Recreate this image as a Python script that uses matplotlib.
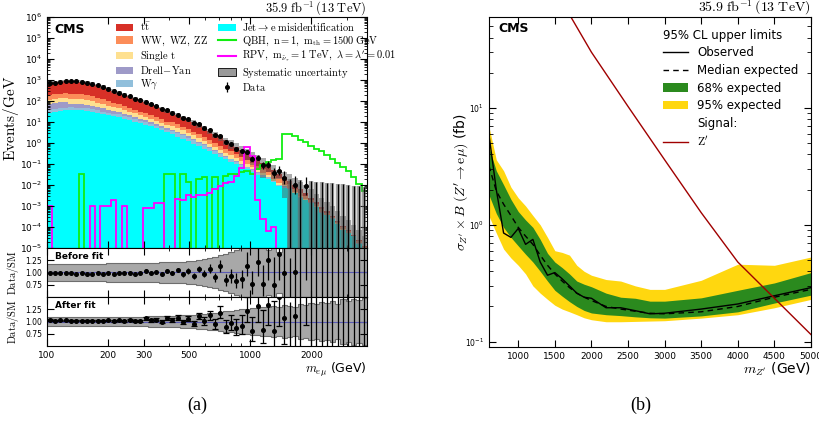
import numpy as np
import matplotlib.pyplot as plt
from matplotlib.patches import Patch
from matplotlib.lines import Line2D
from matplotlib.ticker import FixedLocator, NullFormatter, LogLocator, FuncFormatter

plt.rcParams['mathtext.fontset'] = 'cm'
plt.rcParams['font.family'] = 'DejaVu Sans'
plt.rcParams['xtick.direction'] = 'in'
plt.rcParams['ytick.direction'] = 'in'
plt.rcParams['xtick.top'] = True
plt.rcParams['ytick.right'] = True

# e-mu invariant mass binning (GeV)
mass_edges = np.geomspace(100, 3750, 61)

# backgrounds in events/GeV, bottom of the stack first
misid = [28.2, 31.6, 33.9, 35.5, 36.3, 36.3, 35.5, 33.1, 30.2, 27.5,
         24.5, 21.9, 19.1, 16.6, 14.1, 12.0, 10.2, 8.71, 7.41, 6.17,
         5.01, 4.07, 3.31, 2.63, 2.04, 1.58, 1.23, 0.933, 0.708, 0.537,
         0.398, 0.302, 0.224, 0.166, 0.126, 0.0955, 0.0724, 0.0550, 0.0417, 0.0316,
         0.0240, 0.0200, 0.0132, 0.00891, 0.00759, 0.00631, 0.00398, 0.00240, 0.00191, 0.00141,
         8.9e-4, 4.5e-4, 3.6e-4, 2.5e-4, 1.4e-4, 7.1e-5, 5.0e-5, 3.6e-5, 1.6e-5, 7.9e-6]
wgamma = [10.0, 11.2, 12.0, 12.5, 12.8, 12.5, 12.0, 10.9, 9.5, 8.0,
          6.7, 5.4, 4.35, 7.0, 5.7, 4.6, 3.75, 3.0, 2.45, 1.94,
          1.54, 1.22, 0.97, 1.25, 0.97, 0.75, 0.585, 0.44, 0.33, 0.236,
          0.166, 0.117, 0.082, 0.058, 0.040, 0.028, 0.020, 0.0138, 0.0096, 0.0065,
          0.0044, 0.0028, 0.0015, 0.00103, 6.1e-4, 3.5e-4, 2.3e-4, 1.6e-4, 8.3e-5, 4.2e-5,
          3.7e-5, 2.8e-5, 1.2e-5, 4.8e-6, 3.5e-6, 2.8e-6, 1.1e-6, 2.6e-7, 4.3e-7, 2.8e-7]
drell_yan = [33, 37, 40, 42, 25.7, 25, 24, 21.8, 18.9, 16.1,
             13.3, 10.7, 8.7, 5.9, 4.75, 3.85, 3.1, 2.5, 2.0, 1.6,
             1.28, 1.0, 0.8, 0.5, 0.39, 0.30, 0.234, 0.177, 0.13, 0.094,
             0.066, 0.047, 0.033, 0.023, 0.016, 0.0113, 0.0079, 0.0055, 0.0038, 0.0026,
             0.0018, 0.0011, 7.6e-4, 5.2e-4, 3.1e-4, 1.8e-4, 1.2e-4, 7.8e-5, 4.1e-5, 2.1e-5,
             1.9e-5, 1.4e-5, 5.9e-6, 2.4e-6, 1.8e-6, 1.4e-6, 5.7e-7, 1.3e-7, 2.1e-7, 1.4e-7]
single_top = [40, 45, 48, 50, 51, 50, 48, 43.6, 37.9, 32.1,
              26.6, 21.5, 17.4, 16.4, 13.3, 10.8, 8.75, 7.1, 5.7, 4.5,
              3.6, 2.84, 2.25, 2.24, 1.75, 1.35, 1.05, 0.80, 0.59, 0.42,
              0.30, 0.21, 0.148, 0.104, 0.081, 0.057, 0.040, 0.0276, 0.0192, 0.013,
              0.0088, 0.0056, 0.0030, 0.0021, 0.0012, 7.0e-4, 4.6e-4, 3.1e-4, 1.7e-4, 8.3e-5,
              3.7e-5, 2.8e-5, 1.2e-5, 4.8e-6, 3.5e-6, 2.8e-6, 1.1e-6, 2.6e-7, 4.3e-7, 2.8e-7]
diboson = [73, 82, 88, 92, 94, 92, 88, 80, 69, 58.9,
           48.8, 39.4, 31.9, 23.4, 19.0, 15.4, 12.5, 10.1, 8.2, 6.5,
           5.1, 4.1, 3.2, 3.24, 2.52, 1.95, 1.52, 1.15, 0.85, 0.61,
           0.43, 0.30, 0.213, 0.15, 0.161, 0.113, 0.079, 0.055, 0.038, 0.026,
           0.0176, 0.0112, 0.0133, 0.0090, 0.0054, 0.0031, 0.0020, 0.00137, 7.2e-4, 3.6e-4,
           3.1e-4, 2.3e-4, 9.8e-5, 4.0e-5, 3.0e-5, 2.3e-5, 9.5e-6, 2.2e-6, 3.6e-6, 2.4e-6]
ttbar = [508, 569, 610, 640, 671, 655, 626, 570, 495, 420,
         349, 281, 228, 181, 147, 119, 97, 78, 63, 50,
         39.7, 31.5, 25.0, 17.7, 13.8, 10.65, 8.3, 6.28, 4.64, 3.34,
         2.36, 1.65, 1.16, 0.82, 0.51, 0.357, 0.249, 0.174, 0.121, 0.082,
         0.055, 0.035, 0.0194, 0.0132, 0.0078, 0.0045, 0.0030, 0.0020, 0.00106, 5.3e-4,
         2.2e-4, 1.6e-4, 6.8e-5, 2.8e-5, 2.1e-5, 1.6e-5, 6.7e-6, 1.5e-6, 2.5e-6, 1.6e-6]

# relative uncertainty of the SM prediction before and after the fit
unc_prefit = [0.18, 0.18, 0.18, 0.18, 0.18, 0.18, 0.18, 0.18, 0.18, 0.18,
              0.18, 0.185, 0.185, 0.19, 0.19, 0.19, 0.2, 0.2, 0.2, 0.2,
              0.2, 0.21, 0.21, 0.21, 0.22, 0.22, 0.23, 0.24, 0.26, 0.28,
              0.3, 0.32, 0.35, 0.38, 0.42, 0.46, 0.5, 0.55, 0.6, 0.68,
              0.8, 0.45, 0.7, 0.42, 0.9, 1.1, 1.2, 1.3, 1.4, 1.5,
              1.6, 1.7, 1.8, 1.9, 2.0, 2.0, 2.0, 2.0, 2.0, 2.0]
unc_postfit = [0.09, 0.09, 0.09, 0.09, 0.09, 0.09, 0.09, 0.09, 0.09, 0.09,
               0.09, 0.09, 0.09, 0.095, 0.095, 0.1, 0.1, 0.1, 0.1, 0.105,
               0.11, 0.11, 0.115, 0.12, 0.12, 0.125, 0.13, 0.14, 0.15, 0.16,
               0.17, 0.18, 0.2, 0.21, 0.22, 0.24, 0.25, 0.26, 0.27, 0.28,
               0.3, 0.29, 0.31, 0.3, 0.33, 0.32, 0.3, 0.35, 0.33, 0.37,
               0.35, 0.4, 0.38, 0.42, 0.36, 0.45, 0.42, 0.47, 0.44, 0.48]
postfit_norm = [0.965, 0.965, 0.96, 0.965, 0.96, 0.96, 0.965, 0.96, 0.96, 0.97,
                0.96, 0.965, 0.96, 0.97, 0.965, 0.97, 0.965, 0.97, 0.97, 0.97,
                0.97, 0.975, 0.97, 0.975, 0.97, 0.97, 0.975, 0.97, 0.965, 0.96,
                0.96, 0.955, 0.95, 0.95, 0.95, 0.945, 0.94, 0.94, 0.94, 0.935,
                0.93, 0.93, 0.93, 0.92, 0.92, 0.92, 0.92, 0.91, 0.91, 0.91,
                0.9, 0.9, 0.9, 0.9, 0.9, 0.9, 0.9, 0.9, 0.9, 0.9]

# observed events per bin
data_counts = [4266, 5029, 5757, 6432, 6920, 7151, 7330, 7067, 6503, 5965,
               5224, 4529, 3872, 3392, 2899, 2544, 2144, 1874, 1695, 1375,
               1183, 960, 868, 687, 596, 449, 398, 289, 262, 182,
               153, 96, 90, 51, 42, 28, 22, 22, 11, 13,
               6, 7, 3, 4, 2, 0, 1, 0, 1, 0,
               0, 0, 0, 0, 0, 0, 0, 0, 0, 0]

# signal shapes in events/GeV
qbh = [0, 0, 0, 0, 0, 0, 3.3e-2, 0, 0, 0,
       0, 0, 0, 0, 0, 0, 0, 0, 0, 0,
       0, 0, 3.5e-2, 3.2e-2, 0, 3.2e-2, 1.4e-2, 0, 2.0e-2, 2.5e-2,
       0, 2.5e-2, 0, 2.8e-2, 3.5e-2, 3.2e-2, 4.0e-2, 4.5e-2, 3.5e-2, 5.6e-2,
       8.9e-2, 0.13, 0.16, 0.18, 2.6, 2.6, 2.2, 1.4, 1.1, 0.76,
       0.52, 0.40, 0.28, 0.18, 0.11, 0.071, 0.045, 0.025, 0.011, 0.005]
rpv = [1.0e-3, 0, 0, 0, 0, 0, 0, 0, 1.0e-3, 0,
       1.0e-3, 1.0e-3, 2.0e-3, 0, 1.0e-3, 0, 0, 0, 8e-4, 8e-4,
       1.4e-3, 1.4e-3, 0, 0, 2.2e-3, 2.0e-3, 3.2e-3, 2.8e-3, 3.5e-3, 3.2e-3,
       4.0e-3, 6.3e-3, 8.9e-3, 1.3e-2, 1.4e-2, 2.8e-2, 6.3e-2, 0.63, 0.25, 2.0e-3,
       2.5e-4, 6.3e-5, 1.0e-4, 0, 0, 0, 0, 0, 0, 0,
       0, 0, 0, 0, 0, 0, 0, 0, 0, 0]

# Z' -> e mu limits (fb)
zp_mass = [600, 700, 800, 900, 1000, 1100, 1200, 1300, 1400, 1500, 1600, 1700,
           1800, 1900, 2000, 2200, 2400, 2600, 2800, 3000, 3500, 4000, 4500, 5000]
observed = [5.9, 2.0, 0.85, 0.78, 0.93, 0.68, 0.75, 0.48, 0.37, 0.39, 0.345, 0.30,
            0.26, 0.24, 0.235, 0.195, 0.195, 0.184, 0.173, 0.175, 0.19, 0.21, 0.247, 0.29]
expected = [3.2, 1.95, 1.5, 1.2, 0.95, 0.8, 0.68, 0.55, 0.45, 0.38, 0.33, 0.29,
            0.26, 0.24, 0.225, 0.2, 0.19, 0.182, 0.175, 0.173, 0.18, 0.2, 0.24, 0.28]
band68_lo = [1.8, 1.25, 0.95, 0.78, 0.66, 0.56, 0.48, 0.4, 0.33, 0.275, 0.245, 0.22,
             0.2, 0.185, 0.176, 0.17, 0.167, 0.163, 0.16, 0.159, 0.166, 0.18, 0.214, 0.25]
band68_hi = [4.6, 2.9, 2.2, 1.65, 1.3, 1.1, 0.95, 0.75, 0.57, 0.48, 0.43, 0.38,
             0.33, 0.31, 0.295, 0.26, 0.24, 0.235, 0.222, 0.222, 0.237, 0.275, 0.318, 0.39]
band95_lo = [1.19, 0.85, 0.62, 0.52, 0.45, 0.38, 0.3, 0.26, 0.23, 0.205, 0.19, 0.18,
             0.17, 0.16, 0.154, 0.148, 0.148, 0.149, 0.15, 0.151, 0.159, 0.17, 0.195, 0.23]
band95_hi = [6.9, 3.6, 2.9, 2.1, 1.7, 1.45, 1.2, 1.0, 0.78, 0.6, 0.58, 0.55,
             0.45, 0.4, 0.37, 0.34, 0.33, 0.3, 0.28, 0.28, 0.335, 0.46, 0.45, 0.53]
zprime_mass = [1600, 1700, 2000, 2500, 3000, 3500, 4000, 4500, 5000]
zprime_xsec = [80, 63, 30, 10.3, 3.6, 1.27, 0.48, 0.235, 0.115]

stack = [misid, wgamma, drell_yan, single_top, diboson, ttbar]
stack_colors = ['#00ffff', '#91bfdb', '#9e9ac8', '#fee090', '#fc8d59', '#d73027']
green, yellow, zp_color = '#2b8a1e', '#ffd70f', '#a00000'

width = np.diff(mass_edges)
centers = np.sqrt(mass_edges[:-1] * mass_edges[1:])
counts = np.array(data_counts, dtype=float)
total = np.sum(np.array(stack), axis=0)
u_pre = np.array(unc_prefit)
u_post = np.array(unc_postfit)
err_up = np.where(counts > 0, np.sqrt(counts + 0.25) + 0.5, 1.84)
err_dn = np.where(counts > 0, np.sqrt(counts + 0.25) - 0.5, 0.0)
has = counts > 0
zero = ~has

fig = plt.figure(figsize=(8.2, 4.23), dpi=100)
ax_main = fig.add_axes([0.0573, 0.4137, 0.3902, 0.5461])
ax_r1 = fig.add_axes([0.0573, 0.2979, 0.3902, 0.1158], sharex=ax_main)
ax_r2 = fig.add_axes([0.0573, 0.1820, 0.3902, 0.1158], sharex=ax_main)
ax_lim = fig.add_axes([0.5963, 0.1797, 0.3927, 0.7801])

# ---- stacked backgrounds ----
bottom = np.full(len(centers), 1e-7)
for vals, c in zip(stack, stack_colors):
    top = bottom + np.array(vals)
    ax_main.stairs(top, mass_edges, baseline=bottom, fill=True, color=c, lw=0)
    bottom = top

band_lo = np.clip(total * (1 - u_pre), 1e-7, None)
ax_main.stairs(total * (1 + u_pre), mass_edges, baseline=band_lo, fill=True,
               color='0.35', alpha=0.5, lw=0)

ax_main.stairs(np.where(np.array(qbh) > 0, qbh, 1e-9), mass_edges, baseline=None,
               color='#11ee11', lw=1.3)
ax_main.stairs(np.where(np.array(rpv) > 0, rpv, 1e-9), mass_edges, baseline=None,
               color='#ff00ff', lw=1.3)

# data, with upper limits drawn as bare error bars where no events were seen
ax_main.vlines(centers[zero], 1e-6, err_up[zero] / width[zero], color='0.4', lw=3.2, alpha=0.6)
ax_main.vlines(centers[zero], 1e-6, err_up[zero] / width[zero], color='k', lw=0.9)
data_h = ax_main.errorbar(centers[has], counts[has] / width[has],
                          yerr=[err_dn[has] / width[has], err_up[has] / width[has]],
                          fmt='o', color='k', ms=2.6, lw=0.9, capsize=0)

ax_main.set_xscale('log')
ax_main.set_yscale('log')
ax_main.set_xlim(100, 3750)
ax_main.set_ylim(1e-5, 1e6)
ax_main.yaxis.set_major_locator(LogLocator(base=10, numticks=20))
ax_main.yaxis.set_minor_locator(LogLocator(base=10, subs=np.arange(2, 10), numticks=20))
ax_main.yaxis.set_minor_formatter(NullFormatter())
ax_main.tick_params(axis='x', labelbottom=False)
ax_main.set_ylabel(r'$\mathrm{Events/GeV}$', fontsize=11)
ax_main.yaxis.set_label_coords(-0.082, 0.56)
ax_main.text(0.022, 0.948, 'CMS', transform=ax_main.transAxes, fontsize=9,
             fontweight='bold', va='center')
ax_main.text(1.0, 1.022, r'$35.9\ \mathrm{fb}^{-1}\,(13\ \mathrm{TeV})$',
             transform=ax_main.transAxes, ha='right', va='baseline', fontsize=9)

leg_handles = [Patch(facecolor=stack_colors[5], edgecolor='none'),
               Patch(facecolor=stack_colors[4], edgecolor='none'),
               Patch(facecolor=stack_colors[3], edgecolor='none'),
               Patch(facecolor=stack_colors[2], edgecolor='none'),
               Patch(facecolor=stack_colors[1], edgecolor='none'),
               Patch(facecolor=stack_colors[0], edgecolor='none'),
               Line2D([], [], color='#11ee11', lw=1.5),
               Line2D([], [], color='#ff00ff', lw=1.5),
               Patch(facecolor='0.6', edgecolor='k', lw=0.6),
               data_h]
leg_labels = [r'$\mathrm{t\bar{t}}$', r'$\mathrm{WW,\ WZ,\ ZZ}$', r'$\mathrm{Single\ t}$',
              r'$\mathrm{Drell\!-\!Yan}$', r'$\mathrm{W}\gamma$',
              r'$\mathrm{Jet}\rightarrow\mathrm{e\ misidentification}$',
              r'$\mathrm{QBH,\ n=1,\ m_{th}=1500\ GeV}$',
              r'$\mathrm{RPV,\ m_{\tilde{\nu}_{\tau}}=1\ TeV,\ \lambda=\lambda^{\prime}=0.01}$',
              r'$\mathrm{Systematic\ uncertainty}$', r'$\mathrm{Data}$']
ax_main.legend(leg_handles, leg_labels, ncol=2, loc='upper left',
               bbox_to_anchor=(0.215, 0.985), frameon=False, fontsize=7.5,
               handlelength=1.7, handletextpad=0.6, columnspacing=1.0,
               labelspacing=0.12, borderaxespad=0, borderpad=0)

# ---- data / SM ratios ----
def ratio_panel(ax, bkg, unc, label, caps):
    r = counts / (bkg * width)
    up = err_up / (bkg * width)
    dn = err_dn / (bkg * width)
    ax.stairs(1 + unc, mass_edges, baseline=1 - unc, fill=True, color='#a8a8a8', lw=0)
    ax.stairs(1 + unc, mass_edges, baseline=None, color='#6e6e6e', lw=0.8)
    ax.stairs(1 - unc, mass_edges, baseline=None, color='#6e6e6e', lw=0.8)
    ax.axhline(1.0, color='#5a5ab4', lw=0.8)
    ax.vlines(centers[zero], 0, up[zero], color='k', lw=0.9)
    ax.errorbar(centers[has], r[has], yerr=[dn[has], up[has]], fmt='o', color='k',
                ms=2.6, lw=0.9, capsize=caps, capthick=0.9)
    ax.set_ylim(0.5, 1.5)
    ax.set_yticks([0.75, 1.0, 1.25])
    ax.yaxis.set_major_formatter(FuncFormatter(lambda v, p: f'{v:.2f}'))
    ax.set_ylabel(r'$\mathrm{Data/SM}$', fontsize=7.5)
    ax.yaxis.set_label_coords(-0.082, 0.5)
    ax.text(0.025, 0.82, label, transform=ax.transAxes, fontsize=6.5,
            fontweight='bold', va='center')
    ax.tick_params(axis='y', labelsize=5.5)

ratio_panel(ax_r1, total, u_pre, 'Before fit', 0)
ratio_panel(ax_r2, total * np.array(postfit_norm), u_post, 'After fit', 2.5)
ax_r1.tick_params(axis='x', labelbottom=False)

ax_r2.xaxis.set_major_locator(FixedLocator([100, 200, 300, 500, 1000, 2000]))
ax_r2.xaxis.set_major_formatter(FuncFormatter(lambda v, p: f'{v:.0f}'))
ax_r2.xaxis.set_minor_locator(LogLocator(base=10, subs=np.arange(1, 10), numticks=20))
ax_r2.xaxis.set_minor_formatter(NullFormatter())
ax_r2.tick_params(axis='x', labelsize=6.5)
ax_r2.set_xlabel(r'$m_{e\mu}$ (GeV)', fontsize=9, ha='right')
ax_r2.xaxis.set_label_coords(1.0, -0.3)

for ax in (ax_main, ax_r1, ax_r2):
    ax.tick_params(which='major', length=5, width=0.8)
    ax.tick_params(which='minor', length=2.5, width=0.6)
ax_main.tick_params(axis='y', labelsize=6.5)

# ---- Z' limit panel ----
ax_lim.fill_between(zp_mass, band95_lo, band95_hi, color=yellow, lw=0)
ax_lim.fill_between(zp_mass, band68_lo, band68_hi, color=green, lw=0)
ax_lim.plot(zp_mass, expected, color='k', lw=1, ls=(0, (4, 3)))
ax_lim.plot(zp_mass, observed, color='k', lw=1)
ax_lim.plot(zprime_mass, zprime_xsec, color=zp_color, lw=1)
ax_lim.set_yscale('log')
ax_lim.set_xlim(600, 5000)
ax_lim.set_ylim(0.09, 60)
ax_lim.set_xticks(np.arange(1000, 5001, 500))
ax_lim.tick_params(axis='x', labelsize=6.5)
ax_lim.tick_params(axis='y', labelsize=5.5)
ax_lim.tick_params(which='major', length=5, width=0.8)
ax_lim.tick_params(which='minor', length=3, width=0.6)
ax_lim.set_xlabel(r"$m_{Z^{\prime}}$ (GeV)", fontsize=10, ha='right')
ax_lim.xaxis.set_label_coords(1.0, -0.04)
ax_lim.set_ylabel(r"$\sigma_{Z^{\prime}}\times B\ (Z^{\prime}\rightarrow \mathrm{e}\mu)$ (fb)",
                  fontsize=10)
ax_lim.yaxis.set_label_coords(-0.06, 0.5)
ax_lim.text(0.028, 0.964, 'CMS', transform=ax_lim.transAxes, fontsize=9,
            fontweight='bold', va='center')
ax_lim.text(1.0, 1.015, r'$35.9\ \mathrm{fb}^{-1}\,(13\ \mathrm{TeV})$',
            transform=ax_lim.transAxes, ha='right', va='baseline', fontsize=10)

lim_handles = [Line2D([], [], color='k', lw=1),
               Line2D([], [], color='k', lw=1, ls=(0, (4, 3))),
               Patch(facecolor=green, edgecolor='none'),
               Patch(facecolor=yellow, edgecolor='none'),
               Line2D([], [], color='none'),
               Line2D([], [], color=zp_color, lw=1)]
lim_labels = ['Observed', 'Median expected', '68% expected', '95% expected', 'Signal:',
              r"$\mathrm{Z}^{\prime}$"]
ax_lim.legend(lim_handles, lim_labels, title='95% CL upper limits', alignment='left',
              loc='upper left', bbox_to_anchor=(0.54, 0.965), frameon=False,
              fontsize=8.5, title_fontsize=8.5, handlelength=2.1, handletextpad=0.8,
              labelspacing=0.4, borderaxespad=0, borderpad=0)

fig.text(197 / 820, 1 - 405 / 423, '(a)', fontsize=13, family='Liberation Serif',
         ha='center', va='center')
fig.text(641 / 820, 1 - 405 / 423, '(b)', fontsize=13, family='Liberation Serif',
         ha='center', va='center')

fig.savefig('out.png', dpi=100)
